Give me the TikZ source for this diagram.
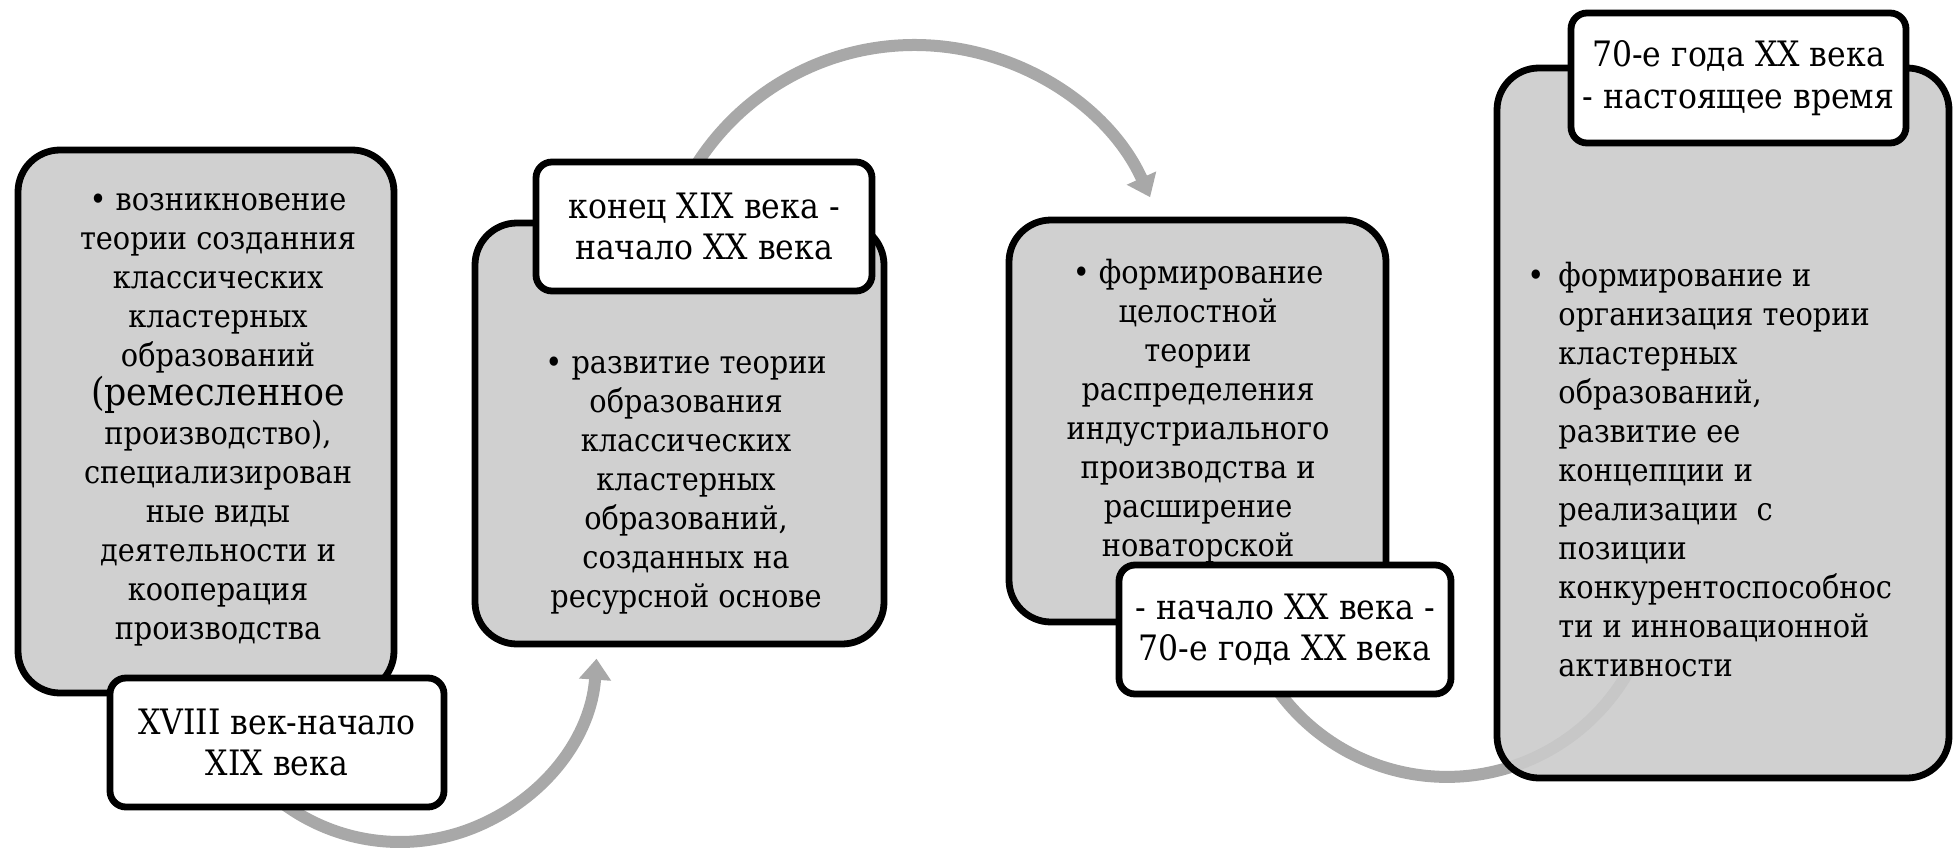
\documentclass[tikz,border=0pt]{standalone}
\usepackage{fontspec}
\setmainfont{DejaVu Serif Condensed}
\usetikzlibrary{arrows.meta}
\definecolor{boxgray}{RGB}{208,208,208}
\definecolor{boxgrayT}{RGB}{203,203,203}
\definecolor{arrowgray}{RGB}{168,168,168}
\pgfdeclarelayer{bg}
\pgfsetlayers{bg,main}
\begin{document}
\begin{tikzpicture}[x={(0.5pt,0pt)}, y={(0pt,-0.5pt)},
  gbox/.style={draw=black, line width=3.4pt, fill=boxgray, rounded corners=21pt, inner sep=0pt},
  lbox/.style={draw=black, line width=3.4pt, fill=white, rounded corners=8pt, inner sep=0pt,
    font=\fontsize{17.5}{20.8}\selectfont, align=center},
  txt/.style={inner sep=0pt, font=\fontsize{16}{19.5}\selectfont, align=center},
  flow/.style={draw=arrowgray, line width=6pt},
  flowtip/.style={flow, -{Triangle[width=15.5pt,length=10.5pt]}},
]
\useasboundingbox (0,0) rectangle (1959,851);

% grey boxes
\node[gbox, minimum width=188pt, minimum height=271.5pt] (box1) at (206,421.5) {};
\node[gbox, minimum width=204.5pt, minimum height=210.5pt] (box2) at (679.5,433.5) {};
\node[gbox, minimum width=188.5pt, minimum height=201pt] (box3) at (1197.5,421) {};
\node[gbox, fill=boxgrayT, fill opacity=0.9, minimum width=226pt, minimum height=355pt] (box4) at (1723,423) {};

% box texts
\node[txt] (t1) at (218,420) {• возникновение\\ теории созданния\\ классических\\ кластерных\\ образований\\ {\fontsize{19.3}{19.5}\selectfont (ремесленное}\\ производство),\\ специализирован\\ ные виды\\ деятельности и\\ кооперация\\ производства};
\node[txt] (t2) at (686,486) {• развитие теории\\ образования\\ классических\\ кластерных\\ образований,\\ созданных на\\ ресурсной основе};
\node[txt] (t3) at (1198,411) {• формирование\\ целостной\\ теории\\ распределения\\ индустриального\\ производства и\\ расширение\\ новаторской};
\node[txt, align=left, anchor=west] (t4) at (1558,470) {\leavevmode\llap{•\hspace{7pt}}формирование и\\ организация теории\\ кластерных\\ образований,\\ развитие ее\\ концепции и\\ реализации\ \ с\\ позиции\\ конкурентоспособнос\\ ти и инновационной\\ активности};

% period labels
\node[lbox, minimum width=167pt, minimum height=64.5pt] (lab1) at (277,742.5) {XVIII век-начало\\ XIX века};
\node[lbox, minimum width=168pt, minimum height=64.5pt] (lab2) at (704,226.5) {конец XIX века -\\ начало XX века};
\node[lbox, minimum width=166pt, minimum height=64.5pt] (lab3) at (1285,629.5) {- начало XX века -\\ 70-е года XX века};
\node[lbox, minimum width=167.5pt, minimum height=65pt] (lab4) at (1738.5,78) {70-е года XX века\\ - настоящее время};

% connector end points
\coordinate (a1s) at (268.2,791.4);
\coordinate (a1m) at (477.0,826.3);
\coordinate (a1e) at (596.5,658.7);
\coordinate (a2s) at (690.5,174.3);
\coordinate (a2m) at (927.3,45.3);
\coordinate (a2e) at (1150.1,197.2);
\coordinate (a3s) at (1275.9,687.8);
\coordinate (a3m) at (1459.8,776.5);
\coordinate (a3e) at (1631.4,666.1);

\begin{pgfonlayer}{bg}
\draw[flowtip] (a1s) .. controls (325.1,842.7) and (406.5,856.2) .. (a1m)
  .. controls (547.5,796.4) and (591.2,735.1) .. (a1e);
\draw[flowtip] (a2s) .. controls (739.0,90.3) and (830.4,40.5) .. (a2m)
  .. controls (1024.2,50.1) and (1110.2,108.8) .. (a2e);
\draw[flow] (a3s) .. controls (1317.6,747.4) and (1387.2,780.9) .. (a3m)
  .. controls (1532.4,772.1) and (1597.3,730.3) .. (a3e);
\end{pgfonlayer}
\end{tikzpicture}
\end{document}
